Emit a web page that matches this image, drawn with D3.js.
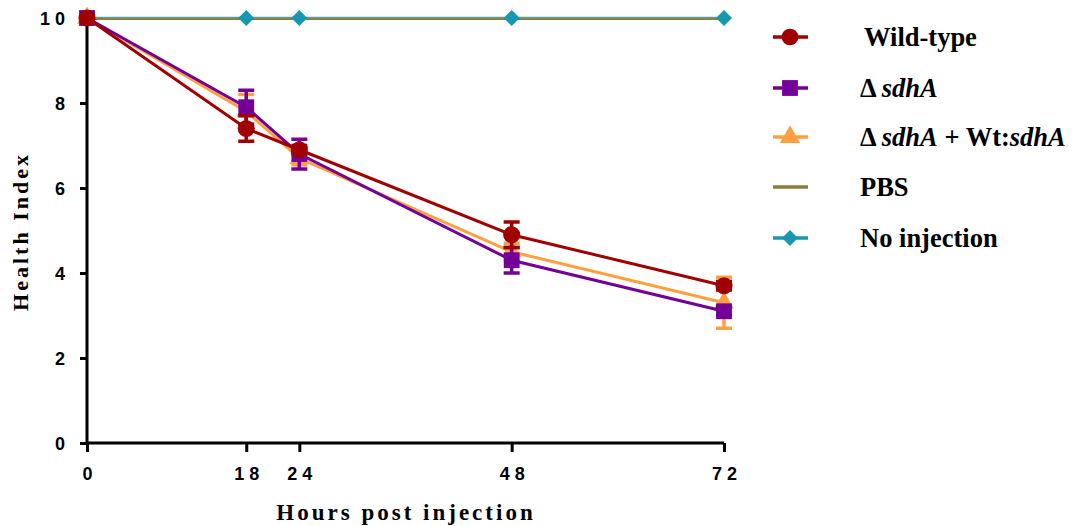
<!DOCTYPE html>
<html>
<head>
<meta charset="utf-8">
<script src="https://cdn.jsdelivr.net/npm/d3@7"></script>
<style>
  body { margin: 0; background: #fff; }
  svg { display: block; }
</style>
</head>
<body>
<svg id="chart" width="1073" height="526"></svg>
<script>
// Health index over time after injection
const hours = [0, 18, 24, 48, 72];
const xTicks = [0, 18, 24, 48, 72];
const yTicks = [0, 2, 4, 6, 8, 10];

const wildType      = [10, 7.4, 6.9, 4.9, 3.7];
const wildTypeErr   = [0, 0.3, 0.1, 0.3, 0.1];
const deltaSdhA     = [10, 7.9, 6.8, 4.3, 3.1];
const deltaSdhAErr  = [0, 0.4, 0.35, 0.3, 0.1];
const complemented  = [10, 7.8, 6.7, 4.5, 3.3];
const complementErr = [0, 0.4, 0.15, 0.2, 0.6];
const pbs           = [10, 10, 10, 10, 10];
const noInjection   = [10, 10, 10, 10, 10];

const svg = d3.select("#chart");
const x = d3.scaleLinear().domain([0, 72]).range([87, 724]);
const y = d3.scaleLinear().domain([0, 10]).range([443, 18]);

const tickFont = "'Liberation Sans Narrow', 'Arial Narrow', 'Liberation Sans', sans-serif";
const serif = "'Liberation Serif', 'Times New Roman', serif";

// Axes
const yAxis = svg.append("g").attr("transform", "translate(87,0)")
  .call(d3.axisLeft(y).tickValues(yTicks).tickSize(7).tickPadding(10).tickFormat(d3.format("d")));
const xAxis = svg.append("g").attr("transform", "translate(0,443)")
  .call(d3.axisBottom(x).tickValues(xTicks).tickSize(9).tickPadding(15).tickFormat(d3.format("d")));

[xAxis, yAxis].forEach(a => {
  a.select(".domain").attr("stroke", "#000").attr("stroke-width", 3);
  a.selectAll(".tick line").attr("stroke", "#000").attr("stroke-width", 3);
  a.selectAll(".tick text")
    .attr("fill", "#000")
    .style("font-family", tickFont)
    .style("font-weight", "bold")
    .style("font-size", "18px")
    .style("letter-spacing", "5px");
});
yAxis.selectAll(".tick text").attr("dy", "0.35em");
xAxis.selectAll(".tick text").attr("dx", "2.5px");
// axis lines end at the outer tick values
yAxis.select(".domain").attr("d", `M0,${y(0)}V${y(10)}`);
xAxis.select(".domain").attr("d", `M${x(0)},0H${x(72)}`);

// Axis titles
svg.append("text")
  .attr("x", 406).attr("y", 520)
  .attr("text-anchor", "middle")
  .style("font-family", serif).style("font-weight", "bold")
  .style("font-size", "23px").style("letter-spacing", "3px")
  .text("Hours post injection");
svg.append("text")
  .attr("transform", `translate(28,${y(5) + 1}) rotate(-90)`)
  .attr("text-anchor", "middle")
  .style("font-family", serif).style("font-weight", "bold")
  .style("font-size", "22px").style("letter-spacing", "3px")
  .text("Health Index");

const line = d3.line().x((d, i) => x(hours[i])).y(d => y(d));

const series = [
  { name: "pbs", values: pbs, err: null, color: "#8a7c3a", shape: null, width: 2, shift: 1 },
  { name: "noinj", values: noInjection, err: null, color: "#5f9da0", marker: "#1798b0", shape: d3.symbolSquare, size: 128, rotate: 45, width: 1.5, shift: -0.5 },
  { name: "comp", values: complemented, err: complementErr, color: "#ffa040", shape: d3.symbolTriangle, size: 170, width: 3 },
  { name: "dsdh", values: deltaSdhA, err: deltaSdhAErr, color: "#730096", shape: d3.symbolSquare, size: 250, width: 3 },
  { name: "wt", values: wildType, err: wildTypeErr, color: "#a00000", shape: d3.symbolCircle, size: 230, width: 3 }
];

series.forEach(s => {
  const g = svg.append("g");
  g.append("path").datum(s.values)
    .attr("d", line).attr("fill", "none")
    .attr("transform", `translate(0,${s.shift || 0})`)
    .attr("stroke", s.color).attr("stroke-width", s.width);
  if (s.err) {
    const cap = 8;
    s.values.forEach((v, i) => {
      if (!s.err[i]) return;
      const cx = x(hours[i]), top = y(v + s.err[i]), bot = y(v - s.err[i]);
      g.append("path")
        .attr("d", `M${cx},${top}V${bot}M${cx - cap},${top}H${cx + cap}M${cx - cap},${bot}H${cx + cap}`)
        .attr("stroke", s.color).attr("stroke-width", 3.5).attr("fill", "none");
    });
  }
  if (s.shape) {
    g.selectAll("path.m").data(s.values).enter().append("path")
      .attr("class", "m")
      .attr("transform", (d, i) => `translate(${x(hours[i])},${y(d)}) rotate(${s.rotate || 0})`)
      .attr("d", d3.symbol().type(s.shape).size(s.size))
      .attr("fill", s.marker || s.color);
  }
});

// Legend
const legend = [
  { color: "#a00000", shape: d3.symbolCircle, size: 220, parts: [["Wild-type", false]], tx: 864 },
  { color: "#730096", shape: d3.symbolSquare, size: 250, parts: [["\u0394 ", false], ["sdhA", true]], tx: 860 },
  { color: "#ffa040", shape: d3.symbolTriangle, size: 180, parts: [["\u0394 ", false], ["sdhA", true], [" + Wt:", false], ["sdhA", true]], tx: 860 },
  { color: "#8a7c3a", shape: null, parts: [["PBS", false]], tx: 860 },
  { color: "#1798b0", shape: d3.symbolSquare, size: 128, rotate: 45, parts: [["No injection", false]], tx: 860 }
];
const rowY = [37, 88, 137, 187, 238];
legend.forEach((l, i) => {
  const g = svg.append("g").attr("transform", `translate(790,${rowY[i]})`);
  g.append("line").attr("x1", -17).attr("x2", 18).attr("stroke", l.color).attr("stroke-width", 3.5);
  if (l.shape) g.append("path").attr("transform", `rotate(${l.rotate || 0})`)
    .attr("d", d3.symbol().type(l.shape).size(l.size)).attr("fill", l.color);
  const t = svg.append("text").attr("x", l.tx).attr("y", rowY[i] + 9)
    .style("font-family", serif).style("font-weight", "bold").style("font-size", "26.5px");
  l.parts.forEach(p => t.append("tspan").text(p[0]).style("font-style", p[1] ? "italic" : "normal"));
});
</script>
</body>
</html>
